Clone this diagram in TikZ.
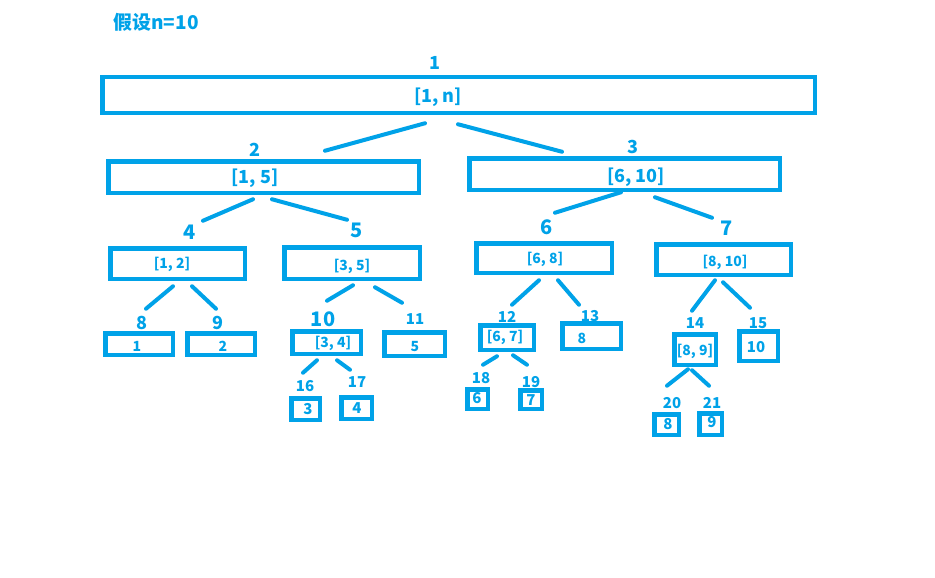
\documentclass[tikz,border=0pt]{standalone}
\usepackage{fontspec}
\setmainfont{Noto Sans CJK SC}
\usetikzlibrary{calc}

\begin{document}
\begin{tikzpicture}[
    x=1pt, y=-1pt,
    every node/.style={font=\bfseries, text=segblue, inner sep=0pt},
    box/.style={draw=segblue, line width=4.5pt, rectangle, inner sep=0pt},
    link/.style={draw=segblue, line width=4pt, line cap=round},
    huge/.style={font=\fontsize{20}{20}\selectfont\bfseries},
    big/.style={font=\fontsize{18}{18}\selectfont\bfseries},
    mid/.style={font=\fontsize{14}{14}\selectfont\bfseries},
    small/.style={font=\fontsize{15}{15}\selectfont\bfseries}
]

% Colors
\definecolor{segblue}{RGB}{0,162,232}

\useasboundingbox (0,0) rectangle (935,578);

% ----------------------------------------------------
% Segment boxes: name, left, top, right, bottom
% ----------------------------------------------------
\newcommand{\segbox}[5]{%
\node[box, minimum width={#4-#2-4.5}, minimum height={#5-#3-4.5}] (#1) at ({(#2+#4)/2},{(#3+#5)/2}) {};
}

\segbox{b1}{100}{75}{817}{115}
\segbox{b2}{106}{159}{421}{195}
\segbox{b3}{467}{156}{782}{192}
\segbox{b4}{108}{246}{247}{281}
\segbox{b5}{282}{245}{422}{281}
\segbox{b6}{474}{241}{614}{275}
\segbox{b7}{654}{242}{793}{277}
\segbox{b8}{103}{331}{175}{357}
\segbox{b9}{185}{331}{257}{357}
\segbox{b10}{290}{329}{363}{356}
\segbox{b11}{382}{330}{447}{358}
\segbox{b12}{478}{323}{536}{352}
\segbox{b13}{560}{321}{623}{351}
\segbox{b14}{672}{332}{718}{367}
\segbox{b15}{737}{329}{780}{363}
\segbox{b16}{289}{396}{322}{422}
\segbox{b17}{339}{395}{374}{421}
\segbox{b18}{465}{387}{490}{411}
\segbox{b19}{518}{388}{544}{411}
\segbox{b20}{652}{412}{681}{437}
\segbox{b21}{697}{411}{724}{437}

% ----------------------------------------------------
% Ranges inside the boxes
% ----------------------------------------------------
\node[big] (t1) at (438,97) {[1, n]};
\node[big] (t2) at (255,178) {[1, 5]};
\node[big] (t3) at (636,177) {[6, 10]};
\node[mid] (t4) at (172,264) {[1, 2]};
\node[mid] (t5) at (352,266) {[3, 5]};
\node[mid] (t6) at (545,259) {[6, 8]};
\node[mid] (t7) at (725,262) {[8, 10]};
\node[mid] (t8) at (137,346) {1};
\node[mid] (t9) at (223,346) {2};
\node[mid] (t10) at (333,343) {[3, 4]};
\node[mid] (t11) at (415,347) {5};
\node[mid] (t12) at (505,337) {[6, 7]};
\node[mid] (t13) at (582,338) {8};
\node[mid] (t14) at (695,351) {[8, 9]};
\node[small] (t15) at (756,347) {10};
\node[small] (t16) at (308,409) {3};
\node[small] (t17) at (357,408) {4};
\node[small] (t18) at (477,398) {6};
\node[small] (t19) at (531,400) {7};
\node[small] (t20) at (668,424) {8};
\node[small] (t21) at (712,422) {9};

% ----------------------------------------------------
% Node numbers
% ----------------------------------------------------
\node[big] (n1) at (435,63) {1};
\node[big] (n2) at (255,150) {2};
\node[big] (n3) at (633,147) {3};
\node[huge] (n4) at (190,232) {4};
\node[huge] (n5) at (357,230) {5};
\node[huge] (n6) at (547,227) {6};
\node[huge] (n7) at (727,228) {7};
\node[big] (n8) at (142,323) {8};
\node[big] (n9) at (218,323) {9};
\node[huge] (n10) at (323,319) {10};
\node[small] (n11) at (415,319) {11};
\node[small] (n12) at (507,317) {12};
\node[small] (n13) at (590,316) {13};
\node[small] (n14) at (695,323) {14};
\node[small] (n15) at (758,323) {15};
\node[small] (n16) at (305,386) {16};
\node[small] (n17) at (357,382) {17};
\node[small] (n18) at (481,378) {18};
\node[small] (n19) at (531,382) {19};
\node[small] (n20) at (672,403) {20};
\node[small] (n21) at (712,403) {21};

% ----------------------------------------------------
% Links from parent to children
% ----------------------------------------------------
\draw[link] ($(b1.south)+(-33.5,8.25)$) -- ($(b2.north)+(61.5,-8.25)$);
\draw[link] ($(b1.south)+(-0.5,9.25)$) -- ($(b3.north)+(-62.5,-4.25)$);
\draw[link] ($(b2.south)+(-10.5,4.25)$) -- ($(b4.north)+(25.5,-25.25)$);
\draw[link] ($(b2.south)+(8.5,4.25)$) -- ($(b5.north)+(-5,-25.25)$);
\draw[link] ($(b3.south)+(-3.5,0.25)$) -- ($(b6.north)+(11,-28.25)$);
\draw[link] ($(b3.south)+(30.5,5.25)$) -- ($(b7.north)+(-11.5,-24.25)$);
\draw[link] ($(b4.south)+(-4.5,5.25)$) -- ($(b8.north)+(7,-22.25)$);
\draw[link] ($(b4.south)+(14.5,5.25)$) -- ($(b9.north)+(-5,-22.25)$);
\draw[link] ($(b5.south)+(1,4.25)$) -- ($(b10.north)+(0.5,-28.25)$);
\draw[link] ($(b5.south)+(23,6.25)$) -- ($(b11.north)+(-12.5,-27.25)$);
\draw[link] ($(b6.south)+(-5,5.25)$) -- ($(b12.north)+(5,-18.25)$);
\draw[link] ($(b6.south)+(14,5.25)$) -- ($(b13.north)+(-12.5,-16.25)$);
\draw[link] ($(b7.south)+(-8.5,3.25)$) -- ($(b14.north)+(-3,-21.25)$);
\draw[link] ($(b7.south)+(-0.5,5.25)$) -- ($(b15.north)+(-8.5,-21.25)$);
\draw[link] ($(b10.south)+(-9.5,4.25)$) -- ($(b16.north)+(-2.5,-23.25)$);
\draw[link] ($(b10.south)+(10.5,4.25)$) -- ($(b17.north)+(-6.5,-25.25)$);
\draw[link] ($(b12.south)+(-10,4.25)$) -- ($(b18.north)+(5.5,-22.25)$);
\draw[link] ($(b12.south)+(6,3.25)$) -- ($(b19.north)+(-4,-23.25)$);
\draw[link] ($(b14.south)+(-7,2.25)$) -- ($(b20.north)+(0.5,-26.25)$);
\draw[link] ($(b14.south)+(-3,3.25)$) -- ($(b21.north)+(-1.5,-25.25)$);

% ----------------------------------------------------
% Title
% ----------------------------------------------------
\node[font=\fontsize{19}{19}\selectfont\bfseries] (title) at (156,22) {假设n=10};

\end{tikzpicture}
\end{document}
